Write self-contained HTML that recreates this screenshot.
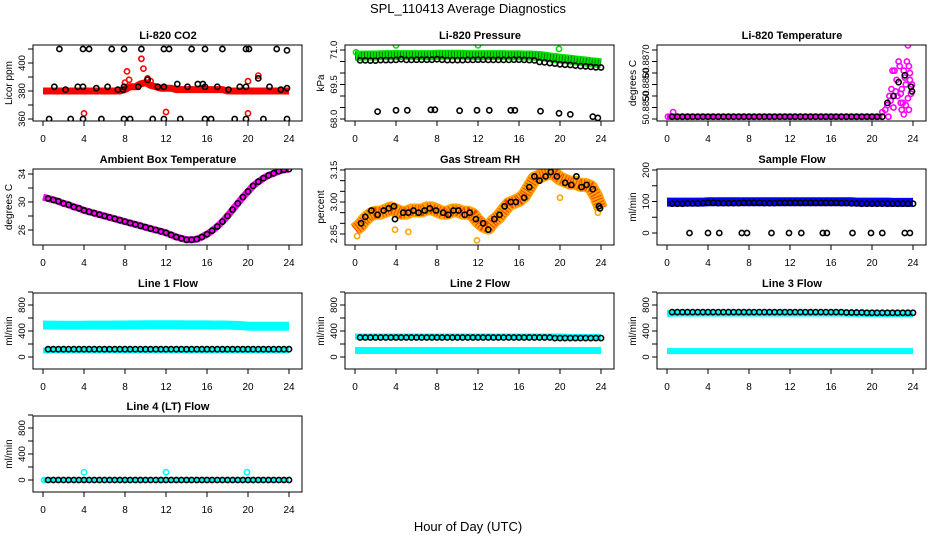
<!DOCTYPE html>
<html><head><meta charset="utf-8"><style>
html,body{margin:0;padding:0;background:#fff}
svg{display:block;font-family:"Liberation Sans",sans-serif}
</style></head><body>
<svg id="chart" width="936" height="540" viewBox="0 0 936 540">
<text x="468" y="13" text-anchor="middle" font-size="13">SPL_110413  Average Diagnostics</text>
<text x="468" y="531" text-anchor="middle" font-size="13">Hour of Day (UTC)</text>
</svg>
<script>
// ---------- data ----------
const xTicks = [0,4,8,12,16,20,24];
const halfHours = [0,0.5,1,1.5,2,2.5,3,3.5,4,4.5,5,5.5,6,6.5,7,7.5,8,8.5,9,9.5,10,10.5,11,11.5,12,12.5,13,13.5,14,14.5,15,15.5,16,16.5,17,17.5,18,18.5,19,19.5,20,20.5,21,21.5,22,22.5,23,23.5,24];
const hourly = [0,1,2,3,4,5,6,7,8,9,10,11,12,13,14,15,16,17,18,19,20,21,22,23,24];

// CO2
const co2BandVals = [380,380,380,380,380,380,380,380,380,380,380,380,380,380,380,380,381,383,383,385,386,384,383,382,382,382,381,381,381,381,381,381,381,381,381,381,380,380,380,380,380,380,380,380,380,380,380,380,380];
const co2RedT = [4.0,8.2,8.4,9.6,9.8,10.2,12.0,20.0,21.0,20.0,8.0,10.5];
const co2RedV = [364,394,388,403,396,389,365,364,391,387,386,387];
const co2BlackT = [1.6,3.9,4.5,6.7,7.9,9.6,11.8,12.3,14.5,15.8,17.5,19.8,20.1,22.8,23.8,0.6,2.7,3.9,5.7,7.9,8.5,10.7,11.8,13.4,15.8,16.4,18.7,19.8,21.5,23.8,1.1,2.2,3.4,3.9,5.2,6.3,7.3,7.8,7.9,9.3,10.2,11.2,11.8,13.1,14.1,15.1,15.6,15.8,17.0,18.1,19.2,19.8,21.0,22.1,23.2,23.8];
const co2BlackV = [410,410,410,410,410,410,410,410,410,410,410,410,410,410,409,360,360,360,360,360,360,360,360,360,360,360,360,360,360,360,383,381,383,383,382,383,381,381,383,383,388,383,383,385,383,385,385,383,383,381,383,383,389,383,381,382];

// Pressure
const presBandVals = [70.75,70.75,70.76,70.76,70.76,70.77,70.78,70.78,70.78,70.78,70.78,70.78,70.78,70.78,70.78,70.78,70.79,70.79,70.79,70.79,70.79,70.79,70.78,70.78,70.78,70.78,70.78,70.78,70.78,70.78,70.77,70.77,70.77,70.76,70.76,70.75,70.74,70.71,70.68,70.65,70.62,70.60,70.58,70.55,70.52,70.50,70.47,70.45,70.42];
const presSpikeT = [0.1,4.0,12.0,19.9];
const presSpikeV = [70.9,71.2,71.2,71.05];
const presBlackV = [70.58,70.55,70.55,70.54,70.54,70.56,70.56,70.56,70.57,70.60,70.57,70.57,70.58,70.58,70.58,70.58,70.60,70.58,70.56,70.56,70.56,70.56,70.57,70.57,70.58,70.58,70.57,70.57,70.57,70.57,70.57,70.58,70.58,70.57,70.56,70.55,70.48,70.46,70.43,70.41,70.38,70.36,70.35,70.32,70.30,70.29,70.27,70.25,70.24];
const presLowT = [2.2,4.0,5.1,7.4,7.8,10.2,11.9,13.1,15.2,15.6,18.1,19.9,21.0,23.2,23.7];
const presLowV = [68.32,68.38,68.38,68.4,68.4,68.36,68.38,68.38,68.38,68.38,68.34,68.25,68.2,68.1,68.05];

// Li-820 temperature
const tempTicks = [50.8845,50.8850,50.8855,50.8860,50.8865,50.8870,50.8875];
const tempBaseT = [0,21];
const tempMagT = [0.1,0.6,21.0,21.3,21.5,21.7,21.9,22.0,22.2,22.4,22.6,22.7,22.8,22.9,23.0,23.1,23.2,23.3,23.4,23.5,23.6,23.7,23.8,23.5,23.9,22.3,21.8,22.5,23.1,22.9,22.1,21.6,23.3,23.6,22.8,23.7];
const tempMagV = [50.8846,50.8848,50.8848,50.8849,50.8851,50.8855,50.8858,50.8866,50.8866,50.8862,50.8870,50.8868,50.8856,50.8849,50.8852,50.8866,50.8863,50.8860,50.8870,50.8877,50.8868,50.8862,50.8856,50.8854,50.8860,50.8857,50.8853,50.8855,50.8847,50.8858,50.8850,50.8846,50.8851,50.8849,50.8852,50.8865];
const tempBlackT = [21.5,22.1,22.6,23.2,23.8,23.9];
const tempBlackV = [50.8852,50.8855,50.8861,50.8864,50.8859,50.8857];

// Ambient
const ambVals = [30.7,30.5,30.3,30.1,29.8,29.6,29.3,29.1,28.8,28.6,28.4,28.2,28.0,27.8,27.6,27.4,27.2,27.0,26.8,26.6,26.4,26.2,26.0,25.8,25.6,25.3,25.0,24.8,24.6,24.6,24.7,25.0,25.4,25.9,26.5,27.2,28.0,28.9,29.8,30.7,31.5,32.3,32.9,33.4,33.8,34.1,34.4,34.6,34.7];

// RH
const rhBandVals = [2.87,2.89,2.92,2.94,2.95,2.95,2.96,2.97,2.96,2.95,2.95,2.96,2.96,2.96,2.97,2.97,2.96,2.95,2.95,2.96,2.96,2.95,2.95,2.94,2.91,2.89,2.88,2.91,2.93,2.96,2.99,3.00,3.01,3.03,3.07,3.11,3.12,3.13,3.14,3.13,3.11,3.10,3.09,3.09,3.08,3.08,3.07,3.03,2.97];
const rhBlackT = [0.6,1.0,1.6,2.2,2.8,3.3,3.8,3.9,4.7,5.2,5.7,6.2,6.8,7.3,7.9,8.6,9.1,9.6,10.1,10.7,11.2,11.8,12.5,13.0,13.6,14.1,14.6,15.2,15.7,16.5,17.0,17.5,18.0,18.6,19.1,19.7,20.5,21.1,21.6,22.1,22.6,23.2,23.8,23.9];
const rhBlackV = [2.90,2.93,2.96,2.94,2.96,2.97,2.98,2.92,2.95,2.95,2.96,2.95,2.96,2.97,2.96,2.95,2.94,2.96,2.96,2.94,2.95,2.92,2.90,2.87,2.92,2.94,2.98,3.00,3.00,3.02,3.07,3.12,3.10,3.12,3.14,3.12,3.09,3.08,3.12,3.07,3.08,3.06,2.98,2.97];
const rhOutT = [0.2,5.2,11.9,20.0,23.7,3.9];
const rhOutV = [2.84,2.86,2.82,3.02,2.95,2.87];

// Sample flow
const sfBandVals = [98,98,98,98,98,98,98,98,99,99,99,99,99,99,99,99,99,99,99,99,99,99,99,99,99,99,99,99,99,99,99,99,99,99,99,99,99,98,98,98,98,98,98,98,97,97,97,97,97];
const sfBlackV = [95,93,93,93,94,94,94,95,96,96,95,95,95,95,95,96,96,96,96,95,95,95,96,96,96,96,96,96,96,96,96,96,96,96,95,95,94,94,93,93,93,93,93,93,93,93,93,93,93];
const sfLowT = [2.2,4.0,5.1,7.3,7.8,10.2,11.9,13.1,15.2,15.6,18.1,19.9,21.0,23.2,23.7];
const sfLowV = [0,0,0,0,0,0,0,0,0,0,0,0,0,0,0];

// Line flows
const l1Band = [490,490,490,488,488,488,488,488,488,490,490,490,490,490,492,492,492,494,494,494,496,496,496,496,496,496,496,496,494,494,494,494,494,492,492,492,490,488,484,480,476,474,474,474,474,472,472,472,472];
const l1Low  = [100,100,100,100,100,100,100,100,100,100,100,100,100,100,100,100,100,100,100,100,100,100,100,100,100];
const l1Black= [120,120,120,120,120,120,120,120,120,120,120,120,120,120,120,120,120,120,120,120,120,120,120,120,120];
const l2Band = [315,315,315,315,315,315,315,315,315,315,315,315,315,315,315,315,315,315,315,315,315,310,310,310,310];
const l2Low  = [100,100,100,100,100,100,100,100,100,100,100,100,100,100,100,100,100,100,100,100,100,100,100,100,100];
const l2Black= [300,300,300,300,300,300,300,300,300,300,300,300,300,300,300,300,300,300,300,300,290,290,290,290,290];
const l3Band = [670,675,675,675,675,675,675,675,675,675,675,675,675,675,675,675,675,675,670,670,665,665,665,665,665];
const l3Low  = [90,90,90,90,90,90,90,90,90,90,90,90,90,90,90,90,90,90,90,90,90,90,90,90,90];
const l3Black= [690,690,690,690,690,690,690,690,690,690,690,690,690,690,690,690,690,690,685,685,680,680,680,680,680];
const l4Black= [0,0,0,0,0,0,0,0,0,0,0,0,0,0,0,0,0,0,0,0,0,0,0,0,0];
const l4OutT = [0.1,4.0,12.0,19.9];
const l4OutV = [0,120,120,120];

// ---------- drawing ----------
const NS = 'http://www.w3.org/2000/svg';
const svg = document.getElementById('chart');
function mk(tag, attrs, parent){
  const e = document.createElementNS(NS, tag);
  for (const k in attrs) e.setAttribute(k, attrs[k]);
  (parent||svg).appendChild(e);
  return e;
}
const COLW = 312, ROWT = [45,169,293,416], BOXH = 76;

function panel(opt){
  const ox = opt.col*COLW, top = ROWT[opt.row];
  const g = mk('g', {});
  
  
  const xs = t => ox + 43 + t*10.25;
  const ys = v => top + opt.p0 + (v - opt.v0) * (opt.p1 - opt.p0) / (opt.v1 - opt.v0);
  const cid = 'clip' + opt.name;
  const cp = mk('clipPath', {id: cid}, g);
  mk('rect', {x: ox+33, y: top, width: 269, height: BOXH}, cp);
  const plot = mk('g', {'clip-path': 'url(#'+cid+')'}, g);
  
  
  const tt = mk('text', {x: ox+168, y: top-6, 'text-anchor':'middle', 'font-size':11, 'font-weight':'bold'}, g);
  tt.textContent = opt.title;
  
  
  const yl = mk('text', {transform:'translate('+(ox+12)+','+(top+BOXH/2)+') rotate(-90)', 'text-anchor':'middle', 'font-size':10}, g);
  yl.textContent = opt.ylab;
  
  
  opt.yTicks.forEach((v,i) => {
    const y = ys(v);
    const tk = mk('line', {x1: ox+28, x2: ox+33, y1: y, y2: y, stroke:'#000', 'stroke-width':1}, g);
    
    
    if (opt.yLabels[i]) {
      const tl = mk('text', {transform:'translate('+(ox+25)+','+y+') rotate(-90)', 'text-anchor':'middle', 'font-size':9.5}, g);
      tl.textContent = opt.yLabels[i];
      
      
    }
  });
  xTicks.forEach(t => {
    const x = xs(t);
    const tk = mk('line', {x1: x, x2: x, y1: top+BOXH, y2: top+BOXH+5, stroke:'#000', 'stroke-width':1}, g);
    
    
    const tl = mk('text', {x: x, y: top+BOXH+21, 'text-anchor':'middle', 'font-size':10}, g);
    tl.textContent = String(t);
    
    
  });
  const api = {
    band(color, ts, vs, w, name, tex){
      const d = ts.map((t,i)=>(i?'L':'M')+xs(t).toFixed(1)+','+ys(vs[i]).toFixed(1)).join('');
      const p = mk('path', {d: d, fill:'none', stroke: color, 'stroke-width': w, 'stroke-linecap':'butt', 'stroke-linejoin':'round'}, plot);
      
      
      if (tex) {
        const p2 = mk('path', {d: d, fill:'none', stroke: tex, 'stroke-width': w-3, 'stroke-dasharray':'1 2', 'stroke-linecap':'butt', opacity:0.8}, plot);
        
        
      }
    },
    pts(color, ts, vs, name, r, sw){
      ts.forEach((t,i) => {
        const c = mk('circle', {cx: xs(t).toFixed(1), cy: ys(vs[i]).toFixed(1), r: r||2.6, fill:'none', stroke: color, 'stroke-width': sw||1.6}, plot);
        
        
      });
    }
  };
  const box = mk('rect', {x: ox+33, y: top, width: 269, height: BOXH, fill:'none', stroke:'#000', 'stroke-width':1}, g);
  
  
  api.finish = () => g.appendChild(box);
  return api;
}
const blackHalf = halfHours.slice(1);

// Row 1
let p = panel({name:'co2-panel', col:0, row:0, title:'Li-820 CO2', ylab:'Licor ppm', v0:360, p0:74, v1:410, p1:4,
  yTicks:[360,370,380,390,400,410], yLabels:['360','','380','','400','']});
p.band('#ff0000', halfHours, co2BandVals, 7, 'co2-red-band');
p.pts('#ff0000', co2RedT, co2RedV, 'co2-red-point');
p.pts('#000', co2BlackT, co2BlackV, 'co2-black-point');
p.finish();

p = panel({name:'pressure-panel', col:1, row:0, title:'Li-820 Pressure', ylab:'kPa', v0:68.0, p0:74, v1:71.0, p1:5,
  yTicks:[68.0,68.5,69.0,69.5,70.0,70.5,71.0], yLabels:['68.0','','','69.5','','','71.0']});
p.band('#00e000', halfHours, presBandVals, 10, 'pressure-green-band', '#006000');
p.pts('#00e000', presSpikeT, presSpikeV, 'pressure-green-point');
p.pts('#000', blackHalf, presBlackV.slice(1), 'pressure-black-point');
p.pts('#000', presLowT, presLowV, 'pressure-low-point');
p.finish();

p = panel({name:'temperature-panel', col:2, row:0, title:'Li-820 Temperature', ylab:'degrees C', v0:50.8845, p0:74, v1:50.8875, p1:5,
  yTicks: tempTicks, yLabels:['','50.8850','','50.8860','','50.8870','']});
p.band('#ff00ff', tempBaseT, [50.8846,50.8846], 6, 'temperature-magenta-band');
p.pts('#ff00ff', tempMagT, tempMagV, 'temperature-magenta-point');
p.pts('#000', blackHalf.filter(t=>t<=21), blackHalf.filter(t=>t<=21).map(()=>50.8846), 'temperature-black-point');
p.pts('#000', tempBlackT, tempBlackV, 'temperature-black-point');
p.finish();

// Row 2
p = panel({name:'ambient-panel', col:0, row:1, title:'Ambient Box Temperature', ylab:'degrees C', v0:26, p0:61, v1:34, p1:5,
  yTicks:[26,28,30,32,34], yLabels:['26','','30','','34']});
p.band('#ff00ff', halfHours, ambVals, 7, 'ambient-magenta-band');
p.pts('#000', blackHalf, ambVals.slice(1), 'ambient-black-point');
p.finish();

p = panel({name:'rh-panel', col:1, row:1, title:'Gas Stream RH', ylab:'percent', v0:2.85, p0:65, v1:3.15, p1:1,
  yTicks:[2.85,2.90,2.95,3.00,3.05,3.10,3.15], yLabels:['2.85','','','3.00','','','3.15']});
p.band('#ffa500', halfHours, rhBandVals, 14, 'rh-orange-band', '#ff2000');
p.pts('#ffa500', rhOutT, rhOutV, 'rh-orange-point');
p.pts('#000', rhBlackT, rhBlackV, 'rh-black-point');
p.finish();

p = panel({name:'sample-flow-panel', col:2, row:1, title:'Sample Flow', ylab:'ml/min', v0:0, p0:64, v1:200, p1:1,
  yTicks:[0,50,100,150,200], yLabels:['0','','100','','200']});
p.band('#0000ff', halfHours, sfBandVals, 9, 'sample-flow-blue-band');
p.pts('#000', blackHalf, sfBlackV.slice(1), 'sample-flow-black-point');
p.pts('#000', sfLowT, sfLowV, 'sample-flow-low-point');
p.finish();

// Row 3 & 4
const lineTicks = [0,200,400,600,800,1000], lineLabels = ['0','','400','','800',''];
function linePanel(name, col, row, title){
  return panel({name:name, col:col, row:row, title:title, ylab:'ml/min', v0:0, p0:64, v1:800, p1:12, yTicks:lineTicks, yLabels:lineLabels});
}
p = linePanel('line1-panel', 0, 2, 'Line 1 Flow');
p.band('#00ffff', halfHours, l1Band, 9, 'line1-cyan-band');
p.band('#00ffff', hourly, l1Low, 6, 'line1-cyan-low-band');
p.pts('#000', hourly.slice(0,24).map(t=>t+0.5), l1Black.slice(1), 'line1-black-point');
p.pts('#000', hourly.slice(1), l1Black.slice(1), 'line1-black-point');
p.finish();

p = linePanel('line2-panel', 1, 2, 'Line 2 Flow');
p.band('#00ffff', hourly, l2Band, 6, 'line2-cyan-band');
p.band('#00ffff', hourly, l2Low, 7, 'line2-cyan-low-band');
p.pts('#000', hourly.slice(0,24).map(t=>t+0.5), l2Black.slice(1), 'line2-black-point');
p.pts('#000', hourly.slice(1), l2Black.slice(1), 'line2-black-point');
p.finish();

p = linePanel('line3-panel', 2, 2, 'Line 3 Flow');
p.band('#00ffff', hourly, l3Band, 7, 'line3-cyan-band');
p.band('#00ffff', hourly, l3Low, 6, 'line3-cyan-low-band');
p.pts('#000', hourly.slice(0,24).map(t=>t+0.5), l3Black.slice(1), 'line3-black-point');
p.pts('#000', hourly.slice(1), l3Black.slice(1), 'line3-black-point');
p.finish();

p = linePanel('line4-panel', 0, 3, 'Line 4 (LT) Flow');
p.band('#00ffff', hourly, l4Black, 5, 'line4-cyan-band');
p.pts('#00ffff', l4OutT, l4OutV, 'line4-cyan-point');
p.pts('#000', hourly.slice(0,24).map(t=>t+0.5), l4Black.slice(1), 'line4-black-point');
p.pts('#000', hourly.slice(1), l4Black.slice(1), 'line4-black-point');
p.finish();
</script>
</body></html>
